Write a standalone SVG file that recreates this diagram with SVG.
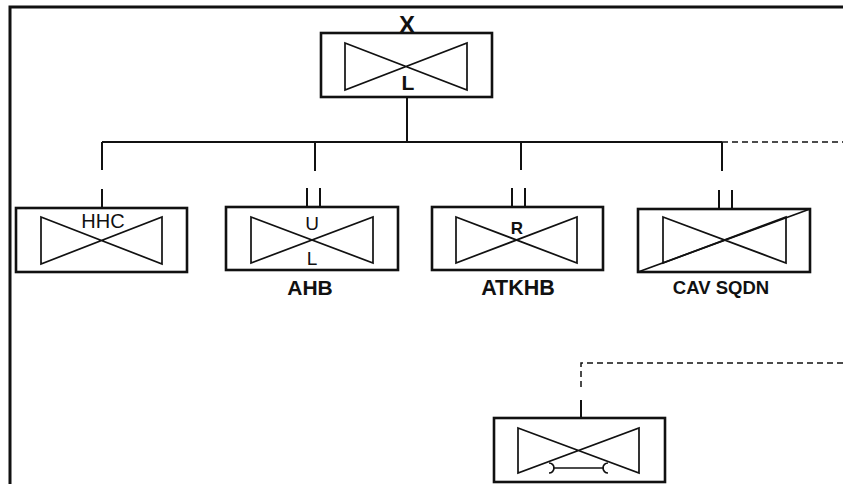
<svg xmlns="http://www.w3.org/2000/svg" width="843" height="484" viewBox="0 0 843 484">
<style>
.frame{fill:none;stroke:#111;stroke-width:3}
.box{fill:#fff;stroke:#111;stroke-width:2.6}
.bow{fill:none;stroke:#111;stroke-width:1.7;stroke-linejoin:miter}
.ln{fill:none;stroke:#111;stroke-width:2}
.dash{fill:none;stroke:#111;stroke-width:1.5;stroke-dasharray:6,4}
.t{font-family:"Liberation Sans",Arial,sans-serif;fill:#111;text-anchor:middle}
.b{font-weight:bold}
</style>
<rect width="843" height="484" fill="#fff"/>
<path class="frame" d="M10,484 V7 H843"/>
<g id="connectors">
<path class="ln" d="M407,97 V142 M102,142 H722 M102,142 V170 M315,142 V171 M521,142 V170 M722,142 V171"/>
<path class="ln" d="M102,189 V208 M307,188 V207 M320,188 V207 M512,188 V207 M525,188 V207 M719,190 V209 M732,190 V209 M581,400 V418"/>
<path class="dash" d="M722,142 H843 M843,363 H581 V388"/>
</g>
<g id="node-hq">
<text class="t b" x="407" y="33" font-size="24">X</text>
<rect class="box" x="321" y="33" width="171" height="64"/>
<path class="bow" d="M345,43 L467,90 V43 L345,90 Z"/>
<text class="t b" x="408" y="90" font-size="21">L</text>
</g>
<g id="node-hhc">
<rect class="box" x="16" y="208" width="171" height="64"/>
<path class="bow" d="M41,217 L162,264 V217 L41,264 Z"/>
<text class="t" x="103" y="228" font-size="20">HHC</text>
</g>
<g id="node-ahb">
<rect class="box" x="226" y="207" width="172" height="63"/>
<path class="bow" d="M251,217 L373,263 V217 L251,263 Z"/>
<text class="t" x="312" y="230" font-size="19">U</text>
<text class="t" x="312" y="265" font-size="19">L</text>
<text class="t b" x="310" y="295" font-size="21">AHB</text>
</g>
<g id="node-atkhb">
<rect class="box" x="432" y="207" width="171" height="63"/>
<path class="bow" d="M456,217 L577,263 V217 L456,263 Z"/>
<text class="t b" x="517" y="234" font-size="17">R</text>
<text class="t b" x="518" y="295" font-size="21.5">ATKHB</text>
</g>
<g id="node-cav">
<rect class="box" x="638" y="209" width="172" height="63"/>
<path class="bow" d="M663,217 L786,263 V217 L663,263 Z"/>
<path class="bow" d="M638,272 L810,209"/>
<text class="t b" x="721" y="294" font-size="18.5">CAV SQDN</text>
</g>
<g id="node-maint">
<rect class="box" x="494" y="418" width="171" height="64"/>
<path class="bow" d="M518,428 L639,473 V428 L518,473 Z"/>
<path class="bow" d="M553,468 H604 M549,463 A5,5 0 0 1 549,473 M608,463 A5,5 0 0 0 608,473"/>
</g>
</svg>
